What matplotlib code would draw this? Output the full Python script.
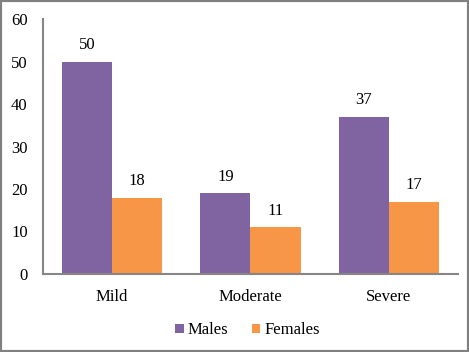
import matplotlib.pyplot as plt
import numpy as np
from matplotlib.patches import Rectangle

categories = ['Mild', 'Moderate', 'Severe']
males = [50, 19, 37]
females = [18, 11, 17]

plt.rcParams['font.family'] = ['Liberation Serif', 'DejaVu Serif']

fig = plt.figure(figsize=(4.69, 3.52), dpi=100)
ax = fig.add_axes([0.0917, 0.2216, 0.8848, 0.7244])

x = np.arange(len(categories))
w = 0.362
b1 = ax.bar(x - w / 2, males, w, color='#8064A2', label='Males')
b2 = ax.bar(x + w / 2, females, w, color='#F79646', label='Females')

for bars in (b1, b2):
    for bar in bars:
        ax.annotate(str(int(bar.get_height())),
                    (bar.get_x() + bar.get_width() / 2, bar.get_height()),
                    xytext=(0, 6), textcoords='offset points',
                    ha='center', va='bottom', fontsize=12)

ax.set_xlim(-0.5, 2.5)
ax.set_ylim(0, 60)
ax.set_yticks(range(0, 61, 10))
ax.set_xticks(x)
ax.set_xticklabels(categories)
ax.tick_params(axis='both', length=0, labelsize=12)
ax.tick_params(axis='y', pad=11)
ax.tick_params(axis='x', pad=11)
for s in ['top', 'right']:
    ax.spines[s].set_visible(False)
for s in ['left', 'bottom']:
    ax.spines[s].set_color('#868686')
    ax.spines[s].set_linewidth(1.5)

fig.legend(handles=[b1, b2], loc='center', bbox_to_anchor=(0.528, 0.062),
           ncol=2, frameon=False, fontsize=12, handlelength=0.5,
           handleheight=0.5, handletextpad=0.25, columnspacing=1.4)

fig.patches.append(Rectangle((0, 0), 1, 1, transform=fig.transFigure,
                             fill=False, edgecolor='#808080', linewidth=3))

fig.savefig('out.png', dpi=100)
